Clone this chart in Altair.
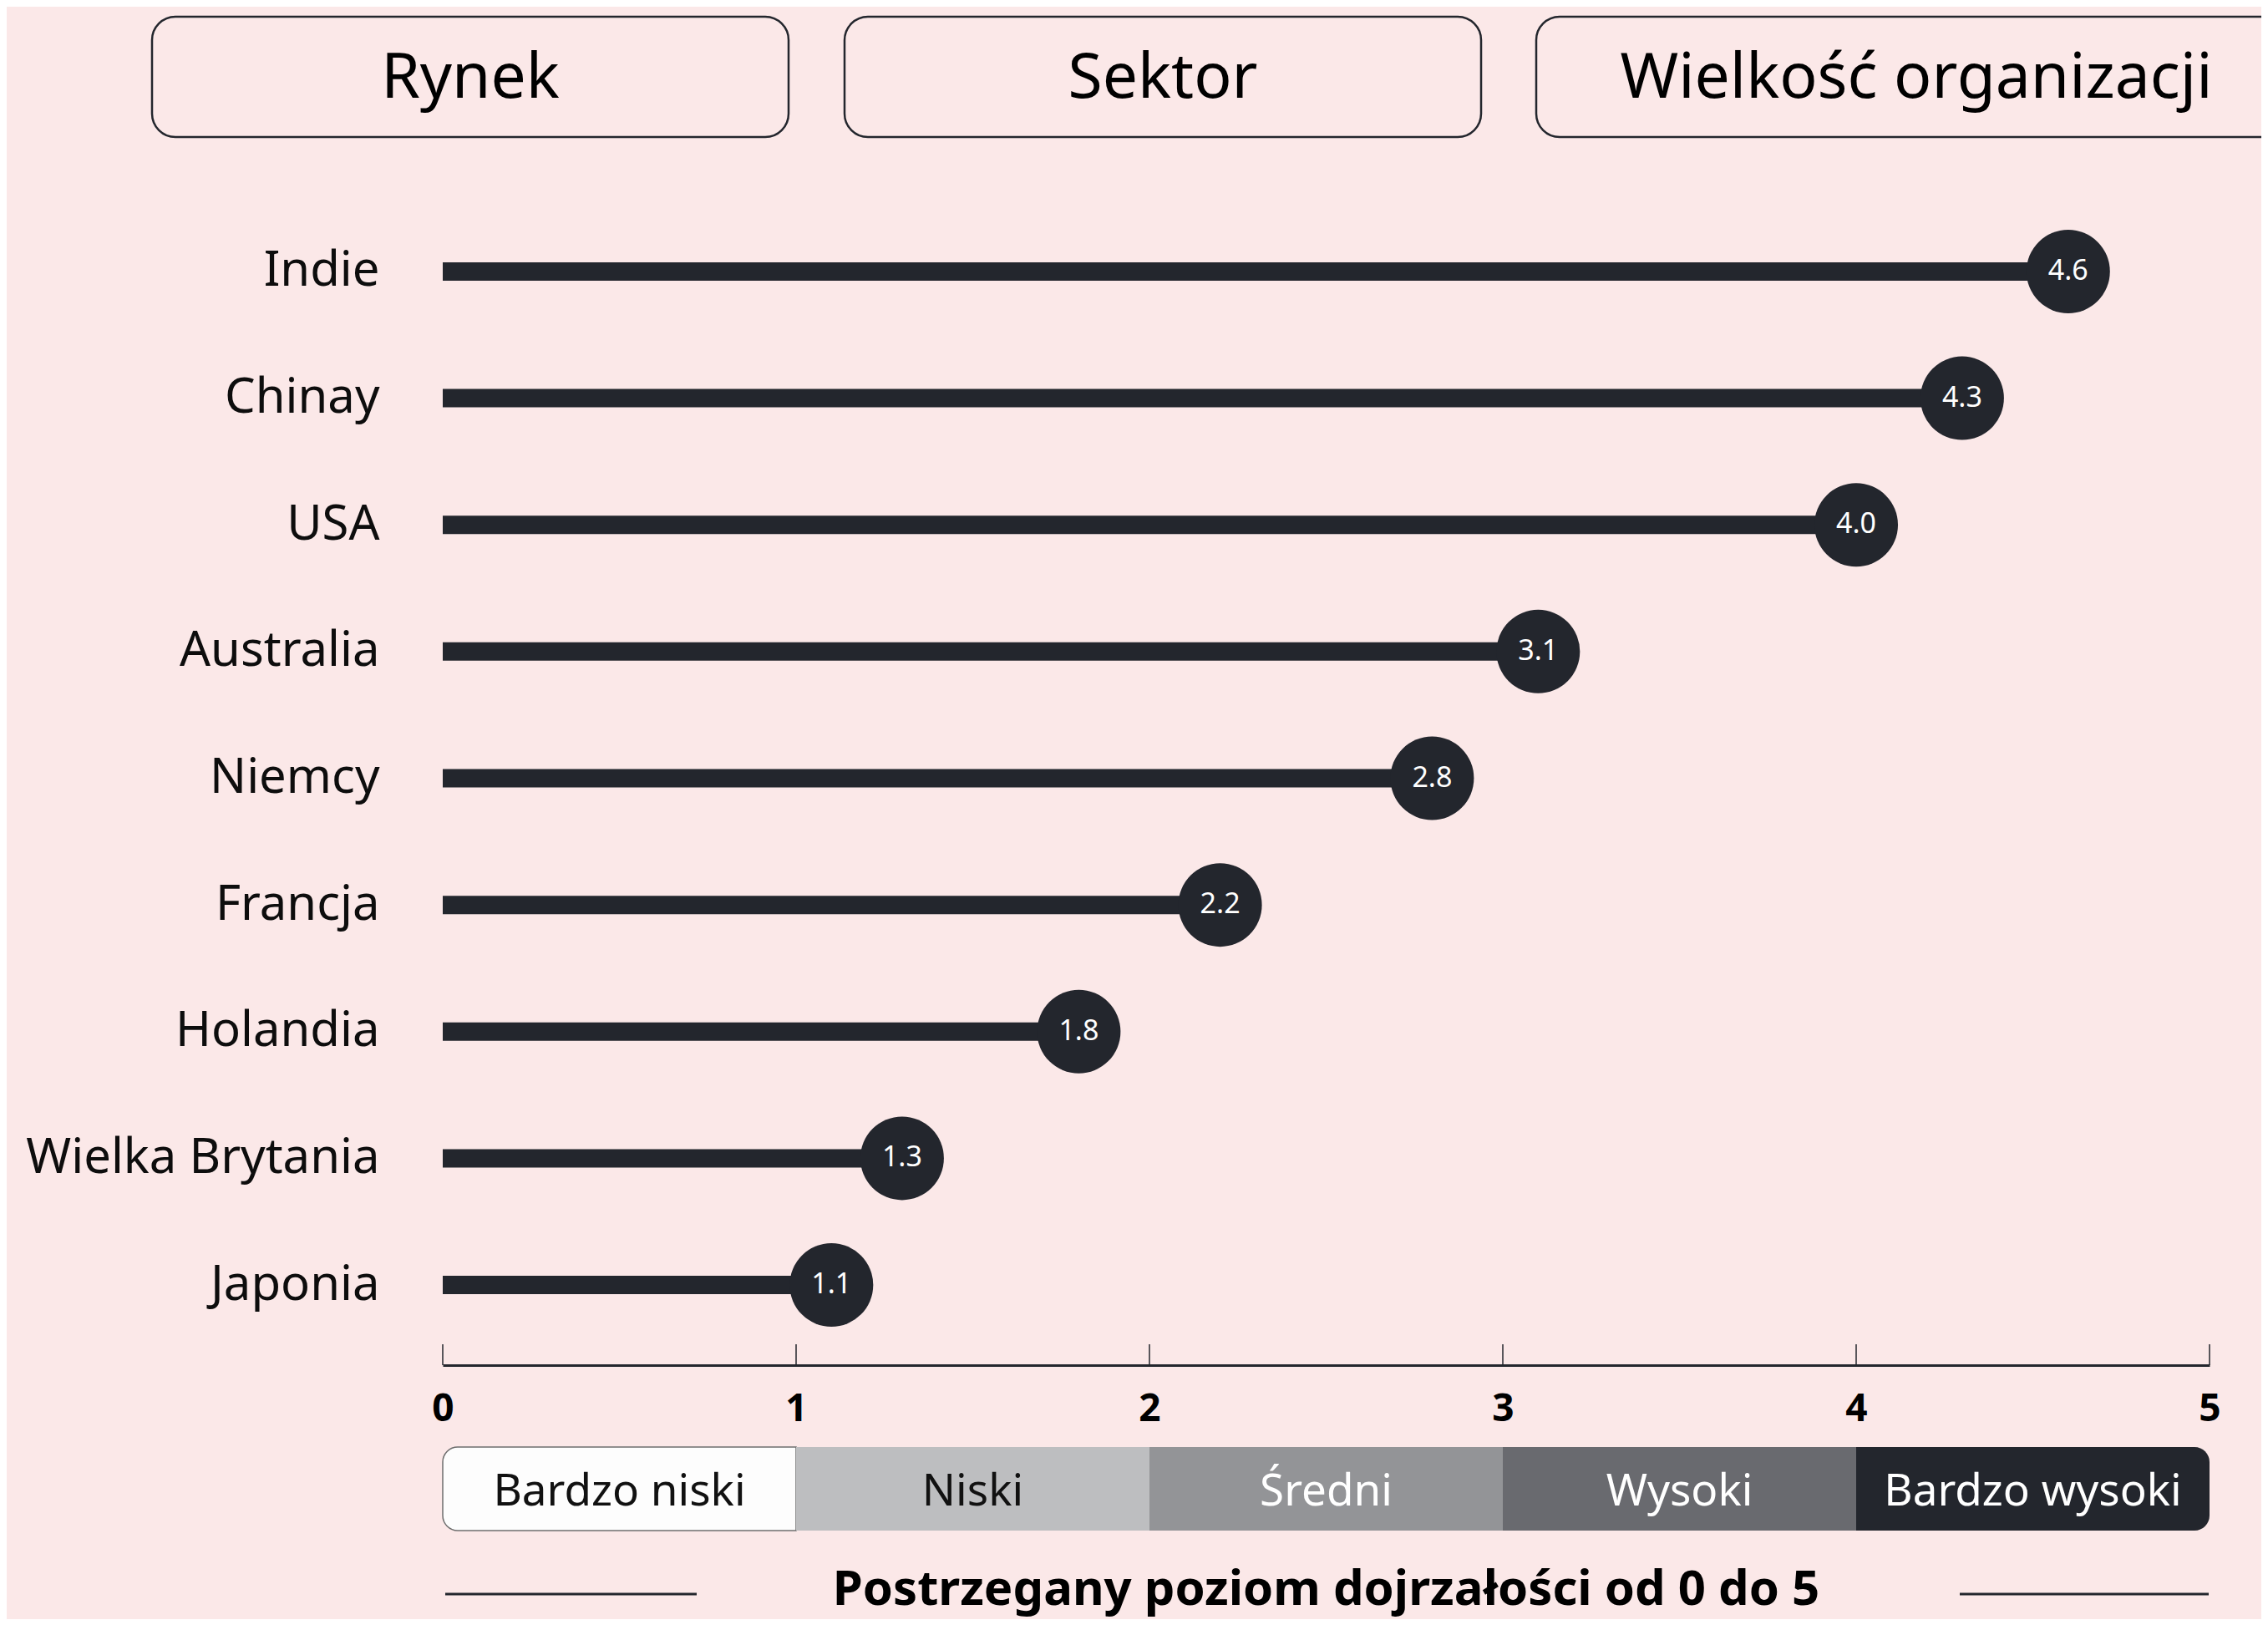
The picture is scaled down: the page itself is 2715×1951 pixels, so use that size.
import altair as alt
import pandas as pd

# ---------------- data ----------------
countries = ["Indie", "Chinay", "USA", "Australia", "Niemcy", "Francja",
             "Holandia", "Wielka Brytania", "Japonia"]
scores = [4.6, 4.3, 4.0, 3.1, 2.8, 2.2, 1.8, 1.3, 1.1]
tick_values = [0, 1, 2, 3, 4, 5]
level_names = ["Bardzo niski", "Niski", "Średni", "Wysoki", "Bardzo wysoki"]
level_start = [0, 1, 2, 3, 4]
level_end = [1, 2, 3, 4, 5]
button_labels = ["Rynek", "Sektor", "Wielkość organizacji"]
x_title = "Postrzegany poziom dojrzałości od 0 do 5"

# ---------------- styles ----------------
DARK = "#23262d"
BG = "#fbe8e8"
TXT = "#0d0d0d"
LEVEL_FILL = ["#fdfdfd", "#bdbec0", "#939497", "#696a6f", "#23262d"]
LEVEL_TEXT = ["#111111", "#111111", "#ffffff", "#ffffff", "#ffffff"]
FONT = "Noto Sans"
W, H = 2115, 1405

df = pd.DataFrame({"country": countries, "score": scores})
df["label"] = [f"{v:.1f}" for v in scores]
ticks_df = pd.DataFrame({"t": tick_values})
levels_df = pd.DataFrame({"name": level_names, "start": level_start, "end": level_end})

xscale = alt.Scale(domain=[0, 5], nice=False, zero=False)
xaxis = alt.Axis(values=tick_values, format="d", title=None, grid=False,
                 ticks=False, labelPadding=30, labelFontSize=46,
                 labelFontWeight="bold", labelColor="#000000", labelFont=FONT,
                 labelFlush=False, labelAngle=0, domainColor=DARK, domainWidth=3)
yenc = alt.Y(
    "country:N", sort=countries,
    scale=alt.Scale(type="point", padding=0.633),
    axis=alt.Axis(title=None, domain=False, ticks=False, labelPadding=76,
                  labelFontSize=58, labelColor=TXT, labelFont=FONT, labelLimit=600),
)

base = alt.Chart(df)
stems = base.mark_rule(strokeWidth=22, color=DARK, strokeCap="butt").encode(
    x=alt.X("score:Q", scale=xscale, axis=xaxis),
    x2=alt.value(0),
    y=yenc,
)
dots = base.mark_circle(size=10000, color=DARK, opacity=1).encode(
    x=alt.X("score:Q", scale=xscale, axis=xaxis), y=yenc)
dot_text = base.mark_text(fontSize=34, color="#ffffff", font=FONT).encode(
    x=alt.X("score:Q", scale=xscale, axis=xaxis), y=yenc, text="label:N")

axis_ticks = alt.Chart(ticks_df).mark_rule(color=DARK, strokeWidth=1.5).encode(
    x=alt.X("t:Q", scale=xscale, axis=xaxis),
    y=alt.value(H - 25), y2=alt.value(H),
)

fill_enc = alt.Fill("name:N", scale=alt.Scale(domain=level_names, range=LEVEL_FILL), legend=None)
lv_base = alt.Chart(levels_df).encode(
    x=alt.X("start:Q", scale=xscale, axis=xaxis), x2="end:Q",
    y=alt.value(H + 98), y2=alt.value(H + 198), fill=fill_enc,
)
lv_first = lv_base.mark_rect(cornerRadiusTopLeft=18, cornerRadiusBottomLeft=18,
                             stroke="#6d6d6d", strokeWidth=1.5).transform_filter(
    alt.datum.name == level_names[0])
lv_mid = lv_base.mark_rect().transform_filter(
    (alt.datum.name != level_names[0]) & (alt.datum.name != level_names[-1]))
lv_last = lv_base.mark_rect(cornerRadiusTopRight=18, cornerRadiusBottomRight=18).transform_filter(
    alt.datum.name == level_names[-1])
lv_text = alt.Chart(levels_df).transform_calculate(
    mid="(datum.start + datum.end) / 2"
).mark_text(fontSize=53, baseline="alphabetic", font=FONT).encode(
    x=alt.X("mid:Q", scale=xscale, axis=xaxis),
    y=alt.value(H + 168),
    text="name:N",
    color=alt.Color("name:N", scale=alt.Scale(domain=level_names, range=LEVEL_TEXT), legend=None),
)

one = pd.DataFrame({"k": [0]})
title = alt.Chart(pd.DataFrame({"t": [x_title]})).mark_text(
    fontSize=58, fontWeight="bold", baseline="alphabetic", color="#000000", font=FONT
).encode(x=alt.value(W / 2), y=alt.value(H + 287), text="t:N")
line_l = alt.Chart(one).mark_rule(color=DARK, strokeWidth=3).encode(
    x=alt.value(3), x2=alt.value(304), y=alt.value(H + 274))
line_r = alt.Chart(one).mark_rule(color=DARK, strokeWidth=3).encode(
    x=alt.value(1816), x2=alt.value(2114), y=alt.value(H + 274))

button_geom = [(-348, 414), (481, 1243), (1309, 2220)]
buttons = []
for lab, (bx0, bx1) in zip(button_labels, button_geom):
    bdf = pd.DataFrame({"b": [lab]})
    buttons.append(alt.Chart(bdf).mark_rect(
        fill=BG, stroke=DARK, strokeWidth=2.5, cornerRadius=28
    ).encode(x=alt.value(bx0), x2=alt.value(bx1), y=alt.value(-209), y2=alt.value(-65)))
    xc = (bx0 + bx1) / 2
    if lab == button_labels[-1]:
        xc = 1764
    buttons.append(alt.Chart(bdf).mark_text(
        fontSize=75, baseline="alphabetic", color="#000000", font=FONT
    ).encode(x=alt.value(xc), y=alt.value(-112), text="b:N"))

chart = alt.layer(
    stems, dots, dot_text, axis_ticks, lv_first, lv_mid, lv_last, lv_text,
    title, line_l, line_r, *buttons
).properties(
    width=W, height=H,
    autosize=alt.AutoSizeParams(type="none"),
    padding={"left": 522, "top": 221, "right": 62, "bottom": 304},
).configure(
    background=BG, font=FONT
).configure_view(strokeWidth=0)

chart.save("out.html", embed_options={"renderer": "svg", "actions": False})
